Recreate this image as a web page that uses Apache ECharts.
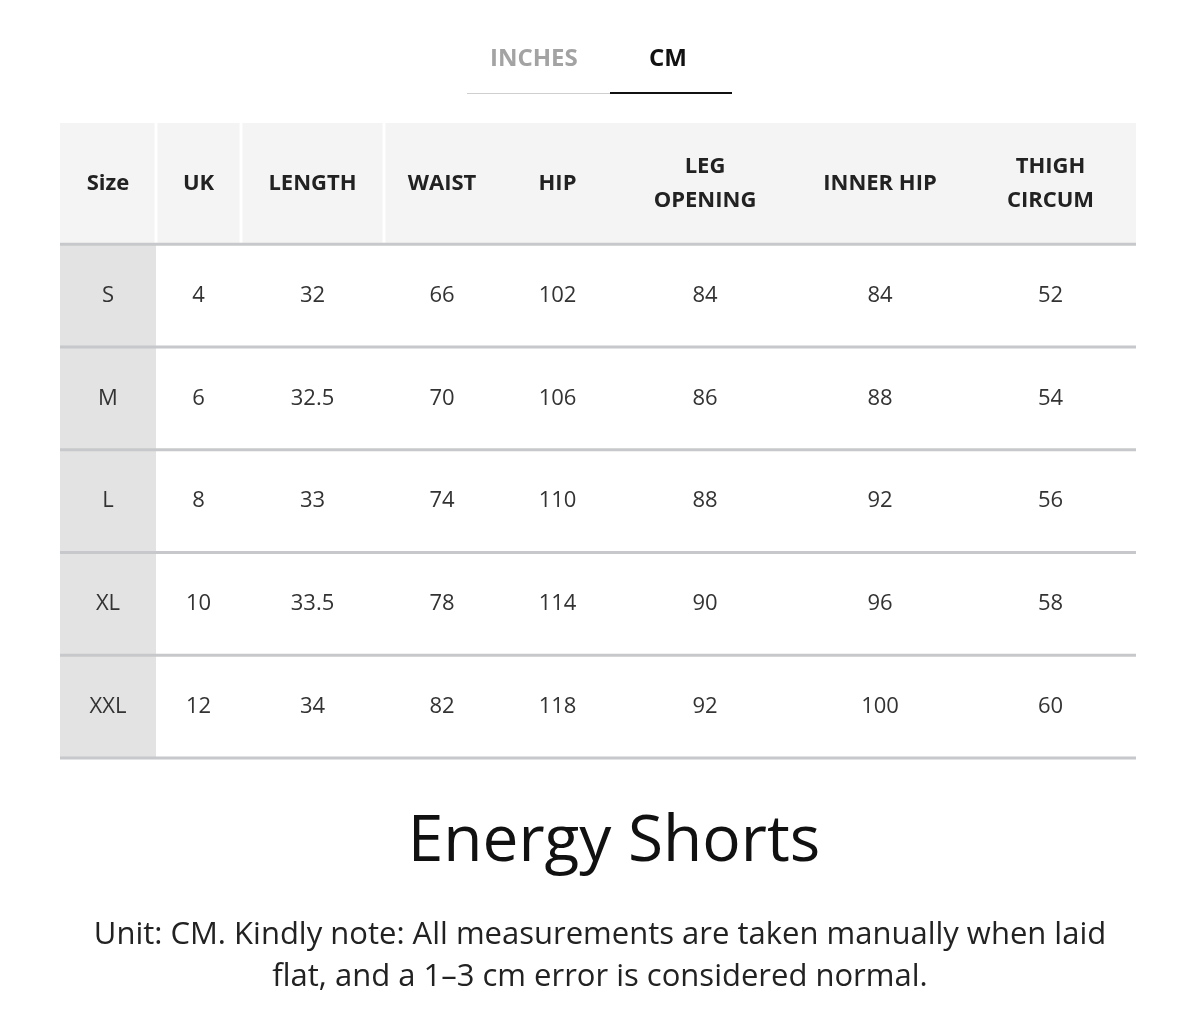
<!DOCTYPE html>
<html><head><meta charset="utf-8">
<script src="https://cdn.jsdelivr.net/npm/echarts@6/dist/echarts.min.js"></script>
<style>html,body{margin:0;padding:0;background:#fff}#c{width:1200px;height:1026px}</style>
</head><body><div id="c"></div>
<script>
const headers = ['Size','UK','LENGTH','WAIST','HIP','LEG\nOPENING','INNER HIP','THIGH\nCIRCUM'];
const sizes = ['S','M','L','XL','XXL'];
const uk = ['4','6','8','10','12'];
const length = ['32','32.5','33','33.5','34'];
const waist = ['66','70','74','78','82'];
const hip = ['102','106','110','114','118'];
const legOpening = ['84','86','88','90','92'];
const innerHip = ['84','88','92','96','100'];
const thighCircum = ['52','54','56','58','60'];
const columns = [sizes, uk, length, waist, hip, legOpening, innerHip, thighCircum];

// layout: column edges on x axis
const EDGES = [60,156,241,384,500,615,795,965,1136];
const HEAD = 1.18;

const data = [];
headers.forEach((h, c) => data.push([c, -1, h]));
sizes.forEach((s, r) => columns.forEach((col, c) => data.push([c, r, col[r]])));

const chart = echarts.init(document.getElementById('c'));
chart.setOption({
  animation: false,
  grid: {left: 60, right: 64, top: 123, bottom: 268},
  xAxis: {type: 'value', min: EDGES[0], max: EDGES[EDGES.length-1], show: false},
  yAxis: {type: 'value', min: -HEAD, max: sizes.length, inverse: true, show: false},
  series: [{
    type: 'custom',
    data: data,
    renderItem: function (params, api) {
      const c = api.value(0), r = api.value(1), txt = api.value(2);
      const isHead = r < 0;
      const y0 = isHead ? -HEAD : r, y1 = isHead ? 0 : r + 1;
      const p0 = api.coord([EDGES[c], y0]);
      const p1 = api.coord([EDGES[c+1], y1]);
      const children = [];
      let fill = null;
      if (isHead) fill = '#f4f4f4';
      else if (c === 0) fill = '#e3e3e3';
      if (fill) children.push({type: 'rect', shape: {x: p0[0], y: p0[1], width: p1[0]-p0[0], height: p1[1]-p0[1]}, style: {fill: fill}});
      if (isHead && c >= 1 && c <= 3) children.push({type: 'rect', shape: {x: p0[0]-1.5, y: p0[1], width: 3, height: p1[1]-p0[1]}, style: {fill: '#fff'}});
      if (!isHead && c === 0) {
        // divider line at row bottom drawn by first cell across whole table
        const pe = api.coord([EDGES[EDGES.length-1], y1]);
        children.push({type: 'rect', z2: 5, shape: {x: p0[0], y: pe[1]-1.5, width: pe[0]-p0[0], height: 3}, style: {fill: '#c6c8cb'}});
      }
      if (isHead && c === 0) {
        const pe = api.coord([EDGES[EDGES.length-1], 0]);
        children.push({type: 'rect', z2: 5, shape: {x: p0[0], y: pe[1]-1.5, width: pe[0]-p0[0], height: 3}, style: {fill: '#c6c8cb'}});
      }
      children.push({type: 'text', z2: 10, style: {
        text: txt, x: (p0[0]+p1[0])/2, y: (p0[1]+p1[1])/2 + (isHead ? 0 : 0),
        align: 'center', verticalAlign: 'middle',
        font: (isHead ? 'bold ' : '') + '22px "Open Sans", sans-serif',
        lineHeight: 34, fill: isHead ? '#222' : '#333'
      }});
      return {type: 'group', children: children};
    }
  }],
  graphic: [
    {type: 'text', left: 490, top: 47, style: {text: 'INCHES', font: 'bold 24px "Open Sans", sans-serif', fill: '#a3a3a3'}},
    {type: 'text', left: 649, top: 47, style: {text: 'CM', font: 'bold 24px "Open Sans", sans-serif', fill: '#111'}},
    {type: 'rect', shape: {x: 467, y: 93, width: 143, height: 1}, style: {fill: '#cfcfcf'}},
    {type: 'rect', shape: {x: 610, y: 92, width: 122, height: 2}, style: {fill: '#111'}},
    {type: 'text', x: 614, y: 843, style: {text: 'Energy Shorts', font: '64px "Open Sans", sans-serif', fill: '#111', align: 'center', verticalAlign: 'middle'}},
    {type: 'text', x: 600, y: 956, style: {text: 'Unit: CM. Kindly note: All measurements are taken manually when laid\nflat, and a 1–3 cm error is considered normal.', font: '31px "Open Sans", sans-serif', lineHeight: 42, fill: '#222', align: 'center', verticalAlign: 'middle'}}
  ]
});
</script></body></html>
